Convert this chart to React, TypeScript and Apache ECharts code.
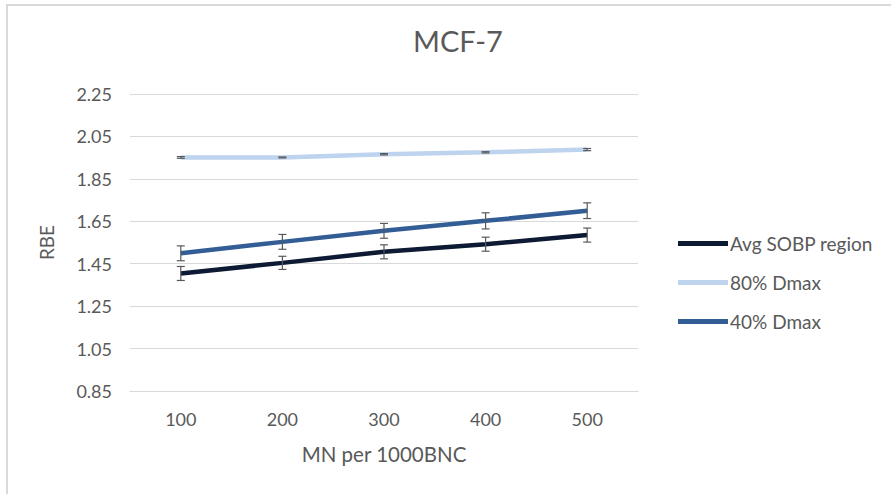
import React, { useEffect, useRef } from "react";
import * as echarts from "echarts";

const categories = ["100", "200", "300", "400", "500"];
const avgSobp = [1.404, 1.454, 1.506, 1.542, 1.585];
const avgSobpErr = [0.033, 0.031, 0.033, 0.033, 0.033];
const dmax80 = [1.951, 1.951, 1.966, 1.975, 1.988];
const dmax80Err = [0.004, 0.002, 0.003, 0.003, 0.005];
const dmax40 = [1.499, 1.553, 1.605, 1.652, 1.7];
const dmax40Err = [0.035, 0.035, 0.035, 0.038, 0.037];
const yTicks = { min: 0.85, max: 2.25, interval: 0.2 };

const FONT = "Lato";
const TEXT = "#595959";

function errSeries(name: string, vals: number[], errs: number[]) {
  return {
    type: "custom",
    name: name + " err",
    z: 5,
    silent: true,
    data: vals.map((v, i) => [i, v - errs[i], v + errs[i]]),
    renderItem: (params: any, api: any) => {
      const x = api.value(0);
      const lo = api.coord([x, api.value(1)]);
      const hi = api.coord([x, api.value(2)]);
      const w = 4;
      const style = { stroke: "#595959", lineWidth: 1.2 };
      return {
        type: "group",
        children: [
          { type: "line", shape: { x1: lo[0], y1: lo[1], x2: hi[0], y2: hi[1] }, style },
          { type: "line", shape: { x1: lo[0] - w, y1: lo[1], x2: lo[0] + w, y2: lo[1] }, style },
          { type: "line", shape: { x1: hi[0] - w, y1: hi[1], x2: hi[0] + w, y2: hi[1] }, style },
        ],
      };
    },
  };
}

export default function App() {
  const ref = useRef<HTMLDivElement>(null);
  useEffect(() => {
    const chart = echarts.init(ref.current!, null, { renderer: "svg" });
    chart.setOption({
      animation: false,
      backgroundColor: "#ffffff",
      title: {
        text: "MCF-7",
        left: 453,
        top: 21,
        textAlign: "center",
        textStyle: { fontFamily: FONT, fontSize: 29, fontWeight: "normal", color: TEXT },
      },
      legend: {
        orient: "vertical",
        left: 673,
        top: 229,
        itemGap: 20,
        itemWidth: 50,
        itemHeight: 5,
        icon: "rect",
        textStyle: { fontFamily: FONT, fontSize: 19, color: TEXT, padding: [0, 0, 0, -3] },
        data: ["Avg SOBP region", "80% Dmax", "40% Dmax"],
      },
      graphic: [
        { type: "line", shape: { x1: 6, y1: 5, x2: 891, y2: 5 }, style: { stroke: "#d9d9d9", lineWidth: 2 } },
        { type: "line", shape: { x1: 7, y1: 5, x2: 7, y2: 494 }, style: { stroke: "#d9d9d9", lineWidth: 2 } },
      ],
      grid: { left: 130, right: 253, top: 94, bottom: 103 },
      xAxis: {
        type: "category",
        data: categories,
        boundaryGap: true,
        name: "MN per 1000BNC",
        nameLocation: "middle",
        nameGap: 52,
        nameTextStyle: { fontFamily: FONT, fontSize: 20.5, color: TEXT },
        axisLine: { show: true, lineStyle: { color: "#d9d9d9" } },
        axisTick: { show: false },
        axisLabel: { fontFamily: FONT, fontSize: 18, color: TEXT, margin: 19 },
      },
      yAxis: {
        type: "value",
        min: yTicks.min,
        max: yTicks.max,
        interval: yTicks.interval,
        name: "RBE",
        nameLocation: "middle",
        nameRotate: 90,
        nameGap: 74,
        nameTextStyle: { fontFamily: FONT, fontSize: 19, color: TEXT },
        axisLine: { show: false },
        axisTick: { show: false },
        axisLabel: {
          fontFamily: FONT,
          fontSize: 18,
          color: TEXT,
          margin: 18,
          formatter: (v: number) => v.toFixed(2),
        },
        splitLine: { lineStyle: { color: "#d9d9d9", width: 1 } },
      },
      series: [
        {
          name: "Avg SOBP region",
          type: "line",
          data: avgSobp,
          symbol: "none",
          lineStyle: { color: "#0d1a33", width: 4.5 },
          itemStyle: { color: "#0d1a33" },
          z: 3,
        },
        {
          name: "80% Dmax",
          type: "line",
          data: dmax80,
          symbol: "none",
          lineStyle: { color: "#bdd3ee", width: 4.5 },
          itemStyle: { color: "#bdd3ee" },
          z: 3,
        },
        {
          name: "40% Dmax",
          type: "line",
          data: dmax40,
          symbol: "none",
          lineStyle: { color: "#335d95", width: 4.5 },
          itemStyle: { color: "#335d95" },
          z: 3,
        },
        errSeries("Avg SOBP region", avgSobp, avgSobpErr),
        errSeries("80% Dmax", dmax80, dmax80Err),
        errSeries("40% Dmax", dmax40, dmax40Err),
      ],
    });
    return () => chart.dispose();
  }, []);
  return (
    <div
      ref={ref}
      style={{ position: "fixed", left: 0, top: 0, width: 891, height: 494 }}
    />
  );
}
